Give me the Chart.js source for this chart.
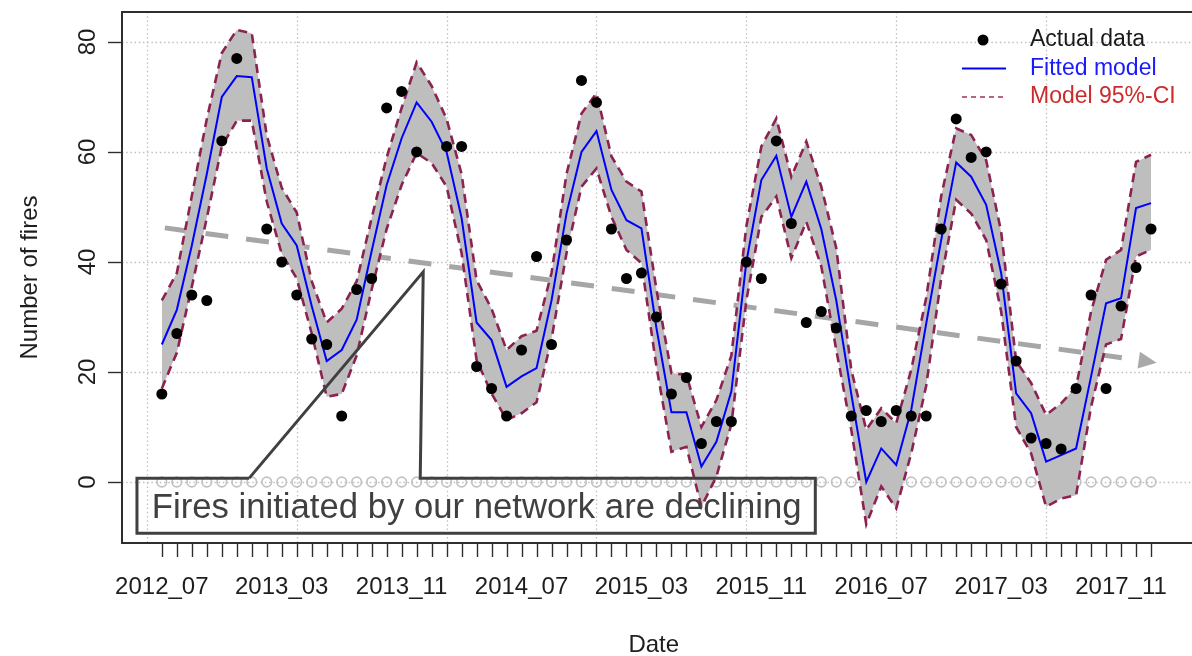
<!DOCTYPE html>
<html>
<head>
<meta charset="utf-8">
<script src="https://cdn.jsdelivr.net/npm/chart.js@4.4.1/dist/chart.umd.min.js"></script>
<style>
  html, body { margin: 0; padding: 0; background: #ffffff; overflow: hidden; }
  canvas { display: block; }
</style>
</head>
<body>
<canvas id="fires" width="1192" height="656"></canvas>
<script>
// ---- Monthly fire counts, July 2012 - January 2018 ----
const firstYear = 2012, firstMonth = 7, monthCount = 67;
const months = Array.from({ length: monthCount }, (_, k) => {
  const t = firstYear * 12 + (firstMonth - 1) + k;
  return Math.floor(t / 12) + '_' + String(t % 12 + 1).padStart(2, '0');
});
const tickMonths = ['2012_07', '2013_03', '2013_11', '2014_07', '2015_03', '2015_11', '2016_07', '2017_03', '2017_11'];
const yTicks = [0, 20, 40, 60, 80];
const gridMonths = [0, 10, 20, 30, 40, 50, 60];

const actual = [
  16, 27, 34, 33, 62, 77, null, 46, 40, 34, 26, 25, 12, 35, 37, 68, 71, 60, null, 61,
  61, 21, 17, 12, 24, 41, 25, 44, 73, 69, 46, 37, 38, 30, 16, 19, 7, 11, 11, 40,
  37, 62, 47, 29, 31, 28, 12, 13, 11, 13, 12, 12, 46, 66, 59, 60, 36, 22, 8, 7,
  6, 17, 34, 17, 32, 39, 46
];
const fitted = [
  25, 31.3, 43, 56, 70, 73.8, 73.6, 57, 47, 43, 32, 22, 24, 29.5, 42, 54, 62.5, 69, 65.5, 60,
  48, 29, 25.8, 17.3, 19.2, 20.7, 33, 48.8, 60, 63.8, 53.1, 47.6, 46.1, 28, 12.7, 12.7, 2.8, 7.3, 16.5, 40,
  54.9, 59.3, 48.2, 54.6, 46, 33, 16, 0, 6.1, 3.1, 13.1, 28.8, 44, 58.1, 55.5, 50.4, 38, 16.1, 12.5, 3.7,
  4.9, 6.1, 19.2, 32.5, 33.4, 49.8, 50.7
];
const ciUpper = [
  33, 38, 52, 66, 78, 82.2, 81.6, 63, 53.5, 49, 36.5, 29, 31.5, 36.5, 48, 59, 68, 76.3, 72, 66,
  56, 36.7, 31.5, 24, 26.5, 27.5, 38, 56, 67, 70.7, 59.2, 54.6, 52.8, 35, 19.8, 19.5, 10, 14.9, 23, 46.5,
  61, 66.1, 55.5, 61.9, 53.7, 42.5, 20.4, 9.5, 13.4, 10.7, 20.4, 33.5, 52, 64.3, 63.1, 58.5, 45.5, 22, 18, 12.2,
  14.3, 17.3, 31, 40.4, 42.2, 58.2, 59.5
];
const ciLower = [
  17, 23.5, 35.5, 48, 61, 65.7, 65.7, 51, 41.5, 37, 27, 15.5, 16, 23, 35, 46, 54, 59.8, 58, 53.7,
  41.6, 22.2, 16.1, 11.3, 12.5, 14.5, 26, 41.6, 53.7, 57, 48.2, 42.2, 39.8, 21, 5.5, 6.4, -4.5, 1, 10.5, 33,
  48.2, 51.9, 40.7, 47.3, 39.2, 24, 9.5, -7.7, -0.8, -4.8, 5.2, 17.5, 37, 51.3, 48.8, 44, 31, 10, 5.2, -4.5,
  -3, -2.4, 13.7, 25, 26, 41, 42.2
];
// fires started by the network itself
const networkInitiated = [
  0, 0, 0, 0, 0, 0, 0, 0, 0, 0, 0, 0, 0, 0, 0, 0, 0, 0, 0, 0,
  0, 0, 0, 0, 0, 0, 0, 0, 0, 0, 0, 0, 0, 0, 0, 0, 0, 0, 0, 0,
  0, 0, 0, 0, 0, 0, 0, 0, 0, 0, 0, 0, 0, 0, 0, 0, 0, 0, 0, 0,
  0, 0, 0, 0, 0, 0, 0
];
// hand-drawn downward trend arrow (month position, fires)
const trendX = [1.2, 65.05];
const trendY = [46.2, 22.6];
const trendTip = { x: 67.37, y: 21.7 };

// callout placed in axis units
const calloutText = 'Fires initiated by our network are declining';
const callout = {
  x0: -0.66, x1: 44.6, yTop: 0.7, yBottom: -9.3,
  gapFrom: 6.83, gapTo: 18.24, tipX: 18.44, tipY: 38.2,
  textX: 0.33, textY: -6.55
};

const toPoints = arr => arr.map((v, i) => ({ x: i + 1, y: v }));
const FONT = "'Liberation Sans', Arial, Helvetica, sans-serif";
Chart.defaults.font.family = FONT;

const CI_COLOR = '#8b2252';
const INK = '#404040';

const framePlugin = {
  id: 'frame',
  beforeDatasetsDraw(chart) {
    const { ctx, chartArea: a, scales: { x, y } } = chart;
    ctx.save();
    // dotted reference grid
    ctx.strokeStyle = '#c0c0c0';
    ctx.lineWidth = 1.3;
    ctx.setLineDash([1.5, 2.7]);
    yTicks.forEach(v => {
      const p = Math.round(y.getPixelForValue(v)) + 0.5;
      ctx.beginPath(); ctx.moveTo(a.left, p); ctx.lineTo(chart.width, p); ctx.stroke();
    });
    gridMonths.forEach(v => {
      const p = Math.round(x.getPixelForValue(v)) + 0.5;
      ctx.beginPath(); ctx.moveTo(p, a.top); ctx.lineTo(p, a.bottom); ctx.stroke();
    });
    ctx.setLineDash([]);
    // arrow head of the trend line
    const bx = x.getPixelForValue(trendX[1]), by = y.getPixelForValue(trendY[1]);
    const tx = x.getPixelForValue(trendTip.x), ty = y.getPixelForValue(trendTip.y);
    const len = Math.hypot(tx - bx, ty - by), ux = (tx - bx) / len, uy = (ty - by) / len;
    const hx = tx - ux * 18, hy = ty - uy * 18;
    ctx.fillStyle = '#a9a9a9';
    ctx.beginPath();
    ctx.moveTo(tx, ty);
    ctx.lineTo(hx - uy * 8.5, hy + ux * 8.5);
    ctx.lineTo(hx + uy * 8.5, hy - ux * 8.5);
    ctx.closePath();
    ctx.fill();
    ctx.restore();
  },
  afterDatasetsDraw(chart) {
    const { ctx, chartArea: a, scales: { x, y } } = chart;
    ctx.save();
    // plot frame (right side runs past the canvas edge)
    ctx.strokeStyle = '#2e2e2e';
    ctx.lineWidth = 2;
    ctx.strokeRect(a.left, a.top, chart.width - a.left + 12, a.bottom - a.top);
    // monthly tick marks
    ctx.lineWidth = 1.4;
    months.forEach((m, i) => {
      const p = Math.round(x.getPixelForValue(i + 1)) + 0.5;
      ctx.beginPath(); ctx.moveTo(p, a.bottom); ctx.lineTo(p, a.bottom + 14); ctx.stroke();
    });
    yTicks.forEach(v => {
      const p = Math.round(y.getPixelForValue(v)) + 0.5;
      ctx.beginPath(); ctx.moveTo(a.left - 14, p); ctx.lineTo(a.left, p); ctx.stroke();
    });

    // callout box with pointer
    const X = v => x.getPixelForValue(v), Y = v => y.getPixelForValue(v);
    ctx.strokeStyle = INK;
    ctx.lineWidth = 3;
    ctx.lineJoin = 'miter';
    ctx.beginPath();
    ctx.moveTo(X(callout.gapFrom), Y(callout.yTop));
    ctx.lineTo(X(callout.x0), Y(callout.yTop));
    ctx.lineTo(X(callout.x0), Y(callout.yBottom));
    ctx.lineTo(X(callout.x1), Y(callout.yBottom));
    ctx.lineTo(X(callout.x1), Y(callout.yTop));
    ctx.lineTo(X(callout.gapTo), Y(callout.yTop));
    ctx.lineTo(X(callout.tipX), Y(callout.tipY));
    ctx.lineTo(X(callout.gapFrom), Y(callout.yTop));
    ctx.stroke();
    ctx.fillStyle = INK;
    ctx.font = '34.7px ' + FONT;
    ctx.textAlign = 'left';
    ctx.textBaseline = 'alphabetic';
    ctx.fillText(calloutText, X(callout.textX), Y(callout.textY));

    // legend, top right inside the plot
    const lx = a.left + 840, ly = a.top + 28, step = 28.5;
    ctx.fillStyle = '#000';
    ctx.beginPath(); ctx.arc(lx + 21, ly, 5.5, 0, Math.PI * 2); ctx.fill();
    ctx.strokeStyle = '#0000ff'; ctx.lineWidth = 2;
    ctx.beginPath(); ctx.moveTo(lx, ly + step); ctx.lineTo(lx + 44, ly + step); ctx.stroke();
    ctx.strokeStyle = '#a3324f'; ctx.lineWidth = 1.5; ctx.setLineDash([5, 4]);
    ctx.beginPath(); ctx.moveTo(lx, ly + 2 * step); ctx.lineTo(lx + 44, ly + 2 * step); ctx.stroke();
    ctx.setLineDash([]);
    ctx.font = '23px ' + FONT;
    ctx.textBaseline = 'middle';
    [['Actual data', '#1a1a1a'], ['Fitted model', '#1a1aff'], ['Model 95%-CI', '#cc2b2b']].forEach(([t, c], k) => {
      ctx.fillStyle = c;
      ctx.fillText(t, lx + 68, ly + k * step);
    });
    ctx.restore();
  }
};

new Chart(document.getElementById('fires'), {
  type: 'line',
  data: {
    datasets: [
      { label: 'Actual data', data: toPoints(actual), showLine: false, pointRadius: 5.5,
        pointBackgroundColor: '#000', pointBorderColor: '#000', pointBorderWidth: 0 },
      { label: 'Fitted model', data: toPoints(fitted), borderColor: '#0000ff', borderWidth: 2,
        pointRadius: 0, tension: 0, fill: false },
      { label: 'Model 95%-CI', data: toPoints(ciUpper), borderColor: CI_COLOR, borderWidth: 2.6,
        borderDash: [9, 6], pointRadius: 0, fill: false },
      { label: 'Model 95%-CI lower', data: toPoints(ciLower), borderColor: CI_COLOR, borderWidth: 2.6,
        borderDash: [9, 6], pointRadius: 0, fill: '-1', backgroundColor: '#bebebe' },
      { label: 'Trend', data: trendX.map((v, i) => ({ x: v, y: trendY[i] })), borderColor: '#a6a6a6',
        borderWidth: 5, borderDash: [23, 18], pointRadius: 0, fill: false },
      { label: 'Network initiated', data: toPoints(networkInitiated), showLine: false, pointRadius: 4.8,
        pointBackgroundColor: 'rgba(0,0,0,0)', pointBorderColor: '#c2c2c2', pointBorderWidth: 1.7 }
    ]
  },
  options: {
    responsive: false,
    animation: false,
    devicePixelRatio: 1,
    layout: { padding: { top: 12, right: 0, bottom: 0, left: 0 } },
    plugins: {
      legend: { display: false },
      tooltip: { enabled: false },
      filler: { drawTime: 'beforeDatasetDraw' }
    },
    scales: {
      x: {
        type: 'linear', min: -1.658, max: 69.3,
        afterBuildTicks: s => { s.ticks = tickMonths.map(m => ({ value: months.indexOf(m) + 1 })); },
        afterFit: s => { s.height = 113; s.paddingLeft = 0; s.paddingRight = 0; s.paddingTop = 0; s.paddingBottom = 0; },
        grid: { display: false, drawTicks: false },
        border: { display: false },
        ticks: { autoSkip: false, maxRotation: 0, minRotation: 0, padding: 30, color: '#1e1e1e',
                 font: { size: 24 }, callback: v => months[v - 1] },
        title: { display: true, text: 'Date', color: '#1e1e1e', font: { size: 24, lineHeight: 0.9 }, padding: 0 }
      },
      y: {
        type: 'linear', min: -11.09, max: 85.45,
        afterBuildTicks: s => { s.ticks = yTicks.map(v => ({ value: v })); },
        afterFit: s => { s.width = 122; s.paddingLeft = 0; s.paddingRight = 0; s.paddingTop = 0; s.paddingBottom = 0; },
        grid: { display: false, drawTicks: false },
        border: { display: false },
        ticks: { minRotation: 90, maxRotation: 90, crossAlign: 'center', padding: 20, color: '#1e1e1e',
                 font: { size: 24 }, callback: v => String(v) },
        title: { display: true, text: 'Number of fires', color: '#1e1e1e', font: { size: 24 },
                 padding: { top: 15.6, bottom: 0 } }
      }
    }
  },
  plugins: [framePlugin]
});
</script>
</body>
</html>
